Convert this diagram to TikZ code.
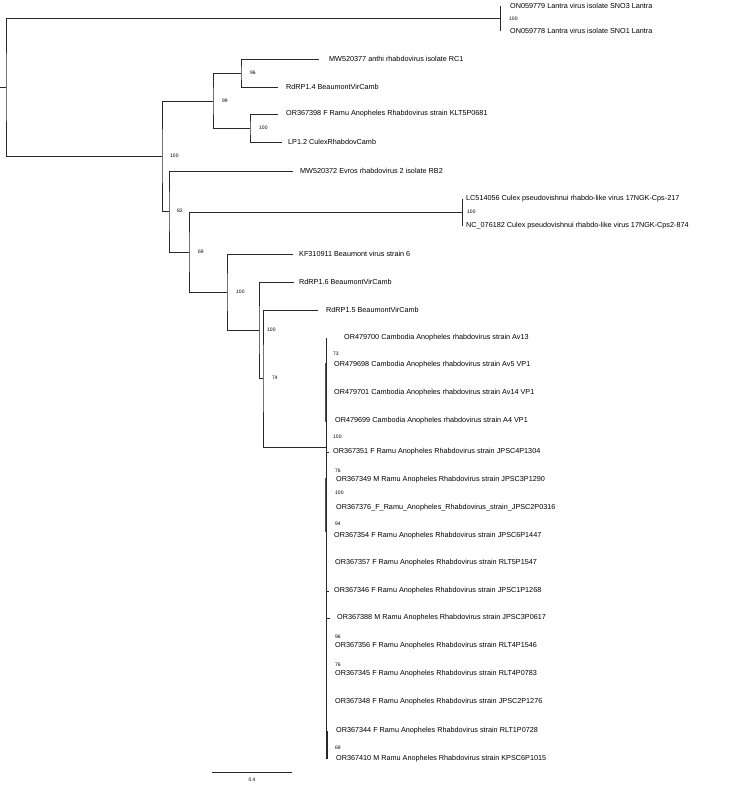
\documentclass[tikz,border=0pt]{standalone}
\usepackage{fontspec}
\setmainfont{Liberation Sans}
\usepackage{tikz}
\usetikzlibrary{positioning, calc}
\definecolor{mydark}{RGB}{40,40,40}
\tikzset{
  branch/.style={draw=mydark, line width=0.75pt, line cap=rect},
  thickbranch/.style={draw=mydark!80, line width=1.7pt},
  taxon/.style={anchor=west, inner sep=0pt, font=\fontsize{7.25}{8}\selectfont},
  boot/.style={anchor=west, inner sep=0pt, font=\fontsize{5}{6}\selectfont}
}

\begin{document}
\begin{tikzpicture}[x=1pt, y=-1pt]
  \useasboundingbox (0,0) rectangle (740,785);

  % internal nodes
  \coordinate (rootin) at (0,87);
  \coordinate (root) at (6,87);
  \coordinate (lan)  at (500,18.5);
  \coordinate (nA) at (162,156);
  \coordinate (nX) at (213,101);
  \coordinate (nU) at (241,73);
  \coordinate (nV) at (250,128);
  \coordinate (nB) at (169,211);
  \coordinate (nC) at (189,252);
  \coordinate (cul) at (462,212);
  \coordinate (nD) at (227,292);
  \coordinate (nE) at (259,330);
  \coordinate (nF) at (263,378);
  \coordinate (nG) at (326,447);

  % tips
  \coordinate (lanA) at (500,6);
  \coordinate (lanB) at (500,31);
  \coordinate (tRC1) at (319,59);
  \coordinate (tR14) at (278,87);
  \coordinate (tKLT) at (278,114);
  \coordinate (tLP)  at (282,142);
  \coordinate (tRB2) at (293,171);
  \coordinate (culA) at (462,199);
  \coordinate (culB) at (462,226);
  \coordinate (tKF)  at (293,254);
  \coordinate (tR16) at (294,282);
  \coordinate (tR15) at (318,310);
  \coordinate (gTop) at (326,338);
  \coordinate (gBot) at (326,759);

  % branches
  \draw[branch] (rootin) -- (root);
  \draw[branch] (lan) -| (root) |- (nA);
  \draw[branch] (lanA) -- (lanB);
  \draw[branch] (nX) -| (nA) |- (nB);
  \draw[branch] (nU) -| (nX) |- (nV);
  \draw[branch] (tRC1) -| (nU) |- (tR14);
  \draw[branch] (tKLT) -| (nV) |- (tLP);
  \draw[branch] (tRB2) -| (nB) |- (nC);
  \draw[branch] (cul) -| (nC) |- (nD);
  \draw[branch] (culA) -- (culB);
  \draw[branch] (tKF) -| (nD) |- (nE);
  \draw[branch] (tR16) -| (nE) |- (nF);
  \draw[branch] (tR15) -| (nF) |- (nG);
  \draw[branch] (gTop) -- (gBot);
  % near-zero subclades
  \draw[thickbranch] (325.5,363) -- (325.5,422);
  \draw[thickbranch] (325.5,478) -- (325.5,532);
  \draw[branch] (nG |- 0,452) -- ++(3,0);
  \draw[branch] (nG |- 0,591) -- ++(3,0);
  \draw[branch] (nG |- 0,618) -- ++(4,0);
  \draw[branch] (327,731) -- (327,759);

  % taxa
  \node[taxon] (l1)  at (510,6)   {ON059779 Lantra virus isolate SNO3 Lantra};
  \node[taxon] (l2)  at (510,31)  {ON059778 Lantra virus isolate SNO1 Lantra};
  \node[taxon] (l3)  at (329,59)  {MW520377 anthi rhabdovirus isolate RC1};
  \node[taxon] (l4)  at (286,87)  {RdRP1.4 BeaumontVirCamb};
  \node[taxon] (l5)  at (286,114) {OR367398 F Ramu Anopheles Rhabdovirus strain KLT5P0681};
  \node[taxon] (l6)  at (288,142) {LP1.2 CulexRhabdovCamb};
  \node[taxon] (l7)  at (300,171) {MW520372 Evros rhabdovirus 2 isolate RB2};
  \node[taxon] (l8)  at (466,199) {LC514056 Culex pseudovishnui rhabdo-like virus 17NGK-Cps-217};
  \node[taxon] (l9)  at (466,226) {NC\_076182 Culex pseudovishnui rhabdo-like virus 17NGK-Cps2-874};
  \node[taxon] (l10) at (299,254) {KF310911 Beaumont virus strain 6};
  \node[taxon] (l11) at (299,282) {RdRP1.6 BeaumontVirCamb};
  \node[taxon] (l12) at (326,310) {RdRP1.5 BeaumontVirCamb};
  \node[taxon] (l13) at (344,338) {OR479700 Cambodia Anopheles rhabdovirus strain Av13};
  \node[taxon] (l14) at (334,365) {OR479698 Cambodia Anopheles rhabdovirus strain Av5 VP1};
  \node[taxon] (l15) at (334,393) {OR479701 Cambodia Anopheles rhabdovirus strain Av14 VP1};
  \node[taxon] (l16) at (335,421) {OR479699 Cambodia Anopheles rhabdovirus strain A4 VP1};
  \node[taxon] (l17) at (333,452) {OR367351 F Ramu Anopheles Rhabdovirus strain JPSC4P1304};
  \node[taxon] (l18) at (336,480) {OR367349 M Ramu Anopheles Rhabdovirus strain JPSC3P1290};
  \node[taxon] (l19) at (336,508) {OR367376\_F\_Ramu\_Anopheles\_Rhabdovirus\_strain\_JPSC2P0316};
  \node[taxon] (l20) at (334,536) {OR367354 F Ramu Anopheles Rhabdovirus strain JPSC6P1447};
  \node[taxon] (l21) at (335,563) {OR367357 F Ramu Anopheles Rhabdovirus strain RLT5P1547};
  \node[taxon] (l22) at (334,591) {OR367346 F Ramu Anopheles Rhabdovirus strain JPSC1P1268};
  \node[taxon] (l23) at (337,618) {OR367388 M Ramu Anopheles Rhabdovirus strain JPSC3P0617};
  \node[taxon] (l24) at (335,646) {OR367356 F Ramu Anopheles Rhabdovirus strain RLT4P1546};
  \node[taxon] (l25) at (335,674) {OR367345 F Ramu Anopheles Rhabdovirus strain RLT4P0783};
  \node[taxon] (l26) at (335,702) {OR367348 F Ramu Anopheles Rhabdovirus strain JPSC2P1276};
  \node[taxon] (l27) at (336,731) {OR367344 F Ramu Anopheles Rhabdovirus strain RLT1P0728};
  \node[taxon] (l28) at (336,759) {OR367410 M Ramu Anopheles Rhabdovirus strain KPSC6P1015};

  % bootstrap values
  \node[boot] (b1)  at ([xshift=9pt]lan) {100};
  \node[boot] (b2)  at ([xshift=9pt]nU)  {96};
  \node[boot] (b3)  at ([xshift=9pt]nX)  {99};
  \node[boot] (b4)  at ([xshift=9pt]nV)  {100};
  \node[boot] (b5)  at ([xshift=8pt]nA)  {100};
  \node[boot] (b6)  at ([xshift=8pt]nB)  {82};
  \node[boot] (b7)  at ([xshift=5pt]cul) {100};
  \node[boot] (b8)  at ([xshift=9pt]nC)  {69};
  \node[boot] (b9)  at ([xshift=9pt]nD)  {100};
  \node[boot] (b10) at ([xshift=8pt]nE)  {100};
  \node[boot] (b11) at ([xshift=9pt]nF)  {74};
  \node[boot] (b12) at (333,354) {73};
  \node[boot] (b13) at (333,437) {100};
  \node[boot] (b14) at (335,471) {76};
  \node[boot] (b15) at (335,493) {100};
  \node[boot] (b16) at (335,524) {94};
  \node[boot] (b17) at (335,637) {96};
  \node[boot] (b18) at (335,665) {76};
  \node[boot] (b19) at (335,748) {69};

  % scale bar
  \coordinate (sbl) at (212,772);
  \coordinate (sbr) at (292,772);
  \draw[branch] (sbl) -- (sbr) node[boot, anchor=north, midway, yshift=-6pt] (sblab) {0.4};
\end{tikzpicture}
\end{document}
